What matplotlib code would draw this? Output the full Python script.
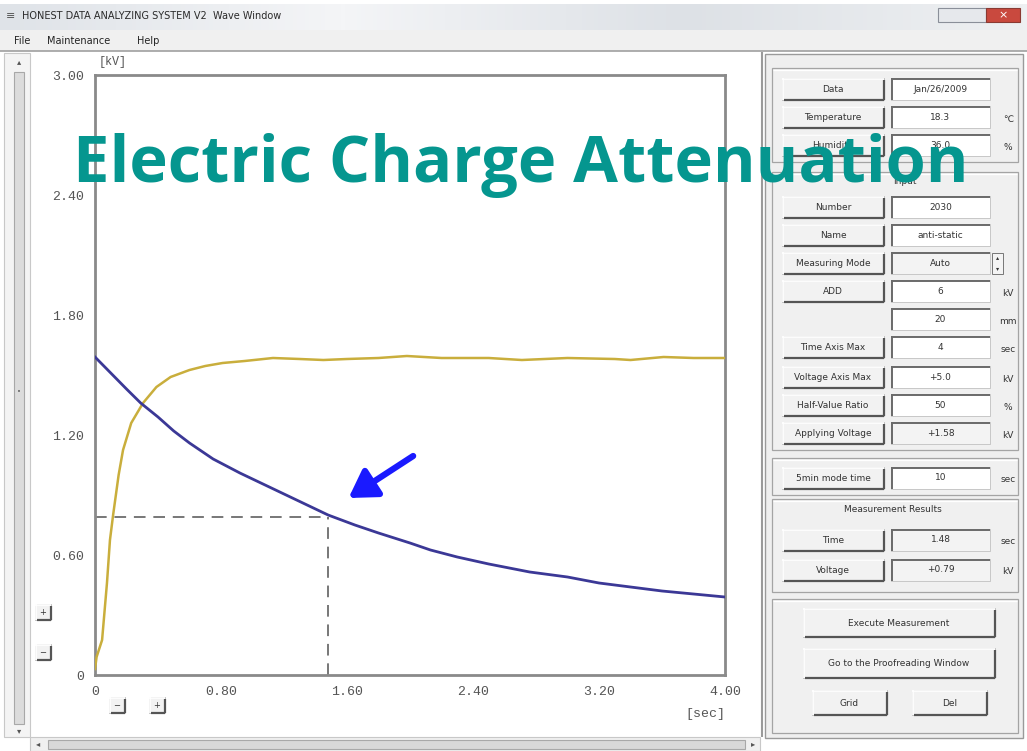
import matplotlib.pyplot as plt
import matplotlib.patches as mpatches
import numpy as np

# --- data ---
t_decay = [0.00, 0.10, 0.20, 0.29, 0.40, 0.50, 0.60, 0.75, 0.92, 1.08, 1.24, 1.36, 1.48,
           1.65, 1.80, 2.00, 2.13, 2.30, 2.50, 2.76, 3.00, 3.20, 3.40, 3.60, 3.80, 4.00]
v_decay = [1.59, 1.51, 1.43, 1.36, 1.29, 1.22, 1.16, 1.08, 1.01, 0.95, 0.89, 0.845, 0.80,
           0.75, 0.71, 0.66, 0.625, 0.59, 0.555, 0.515, 0.49, 0.46, 0.44, 0.42, 0.405, 0.39]

t_apply = [0.00, 0.01, 0.045, 0.076, 0.095, 0.115, 0.15, 0.178, 0.23, 0.305, 0.39, 0.48,
           0.60, 0.70, 0.81, 0.95, 1.13, 1.30, 1.45, 1.60, 1.80, 1.98, 2.20, 2.50, 2.71,
           3.00, 3.30, 3.40, 3.61, 3.80, 4.00]
v_apply = [0.03, 0.09, 0.175, 0.46, 0.675, 0.80, 1.00, 1.125, 1.26, 1.36, 1.44, 1.49,
           1.525, 1.545, 1.56, 1.57, 1.585, 1.58, 1.575, 1.58, 1.585, 1.595, 1.585, 1.585, 1.575,
           1.585, 1.58, 1.575, 1.59, 1.585, 1.585]

half_time = 1.48
half_volt = 0.79

x_ticks = [0, 0.8, 1.6, 2.4, 3.2, 4.0]
x_ticklabels = ['0', '0.80', '1.60', '2.40', '3.20', '4.00']
y_ticks = [0, 0.6, 1.2, 1.8, 2.4, 3.0]
y_ticklabels = ['0', '0.60', '1.20', '1.80', '2.40', '3.00']

title = 'Electric Charge Attenuation'
window_title = 'HONEST DATA ANALYZING SYSTEM V2  Wave Window'
menu_items = ['File', 'Maintenance', 'Help']

row_labels = ['Data', 'Temperature', 'Humidity', 'Number', 'Name', 'Measuring Mode', 'ADD', '',
              'Time Axis Max', 'Voltage Axis Max', 'Half-Value Ratio', 'Applying Voltage',
              '5min mode time', 'Time', 'Voltage']
row_values = ['Jan/26/2009', '18.3', '36.0', '2030', 'anti-static', 'Auto', '6', '20',
              '4', '+5.0', '50', '+1.58', '10', '1.48', '+0.79']
row_units = ['', '\u2103', '%', '', '', '', 'kV', 'mm', 'sec', 'kV', '%', 'kV', 'sec', 'sec', 'kV']
row_y = [89, 117, 145, 207, 235, 263, 291, 319, 347, 377, 405, 433, 478, 540, 570]
grey_fields = ['Measuring Mode', 'Applying Voltage', 'Time', 'Voltage']

W, H = 1027, 751
fig = plt.figure(figsize=(W / 100, H / 100), dpi=100)

bg = fig.add_axes([0, 0, 1, 1])
bg.set_xlim(0, W)
bg.set_ylim(H, 0)
bg.axis('off')
bg.set_zorder(0)


def rect(x0, y0, x1, y1, fc='none', ec='none', lw=1.0, z=1):
    bg.add_patch(mpatches.Rectangle((x0, y0), x1 - x0, y1 - y0, facecolor=fc,
                                    edgecolor=ec, linewidth=lw, zorder=z))


def line(xs, ys, c, lw=1.0, z=2):
    bg.plot(xs, ys, color=c, lw=lw, zorder=z, solid_capstyle='butt')


def button(x0, y0, x1, y1, label, fs=6.5):
    rect(x0, y0, x1, y1, fc='#f2f2f2', ec='#b8b8b8', lw=0.6)
    line([x0, x1], [y0 + 0.5, y0 + 0.5], '#ffffff', 1.2)
    line([x0 + 0.5, x0 + 0.5], [y0, y1], '#ffffff', 1.2)
    line([x0 + 2, x1], [y1, y1], '#555555', 1.6)
    line([x1, x1], [y0 + 2, y1], '#555555', 1.6)
    if label:
        bg.text((x0 + x1) / 2, (y0 + y1) / 2 + 0.5, label, ha='center', va='center',
                fontsize=fs, color='#333333', family='DejaVu Sans', zorder=3)


def field(x0, y0, x1, y1, value, fc='#ffffff'):
    rect(x0, y0, x1, y1, fc=fc, ec='#c0c0c0', lw=0.6)
    line([x0, x1], [y0 + 0.5, y0 + 0.5], '#6a6a6a', 1.4)
    line([x0 + 0.5, x0 + 0.5], [y0, y1], '#6a6a6a', 1.4)
    bg.text((x0 + x1) / 2, (y0 + y1) / 2, value, ha='center', va='center',
            fontsize=6.5, color='#333333', zorder=3)


# window chrome
rect(0, 0, W, H, fc='#ffffff', z=0)
grad = np.linspace(0, 1, 256).reshape(1, -1)
bg.imshow(grad, extent=[0, W, 30, 4], cmap=plt.matplotlib.colors.LinearSegmentedColormap.from_list(
    'tb', ['#dfe3e8', '#f4f5f7', '#dde1e6', '#eef0f2']), aspect='auto', zorder=1)
bg.text(22, 16, window_title, fontsize=7, color='#2a2a2a', va='center', zorder=3)
bg.text(6, 16, '\u2261', fontsize=8, color='#555555', va='center', zorder=3)
rect(938, 8, 986, 22, fc='#e6e8ec', ec='#8a8f99', lw=0.8, z=2)
rect(986, 8, 1020, 22, fc='#c9493e', ec='#8a3a33', lw=0.8, z=2)
bg.text(1003, 15, '\u00d7', fontsize=8, color='white', ha='center', va='center', zorder=3)
rect(0, 30, W, 51, fc='#f0f0f0', z=1)
line([0, W], [51, 51], '#a0a0a0', 1.2)
for name, x in zip(menu_items, [14, 47, 137]):
    bg.text(x, 41, name, fontsize=7, color='#222222', va='center', zorder=3)

# left / bottom scrollbars
rect(4, 53, 30, 737, fc='#f4f4f4', ec='#c8c8c8', lw=0.8)
rect(14, 72, 24, 724, fc='#dcdcdc', ec='#a8a8a8', lw=0.8)
bg.text(19, 62, '\u25b4', fontsize=6, color='#555555', ha='center', va='center', zorder=3)
bg.text(19, 731, '\u25be', fontsize=6, color='#555555', ha='center', va='center', zorder=3)
bg.text(19, 392, '\u2022', fontsize=5, color='#666666', ha='center', va='center', zorder=3)
rect(30, 737, 760, 751, fc='#f0f0f0', ec='#c8c8c8', lw=0.8)
rect(48, 740, 745, 749, fc='#d8d8d8', ec='#a8a8a8', lw=0.8)
bg.text(38, 744, '\u25c2', fontsize=6, color='#555555', ha='center', va='center', zorder=3)
bg.text(753, 744, '\u25b8', fontsize=6, color='#555555', ha='center', va='center', zorder=3)

# zoom buttons near the plot
for (cx, cy, s) in [(43, 612, '+'), (43, 652, '\u2212'), (117, 705, '\u2212'), (157, 705, '+')]:
    button(cx - 8, cy - 8, cx + 8, cy + 8, s, fs=6)

# right panel
line([762, 762], [52, 737], '#9a9a9a', 1.5)
rect(765, 54, 1023, 738, fc='#efefef', ec='#9a9a9a', lw=1.0)
for (y0, y1) in [(68, 162), (172, 450), (458, 495), (499, 592), (599, 733)]:
    rect(772, y0, 1018, y1, fc='#f0f0f0', ec='#a4a4a4', lw=0.9)
    line([773, 1017], [y0 + 1.5, y0 + 1.5], '#ffffff', 1.0)
bg.text(905, 182, 'Input', fontsize=6.5, color='#333333', ha='center', va='center', zorder=3)
bg.text(893, 509, 'Measurement Results', fontsize=6.5, color='#333333', ha='center',
        va='center', zorder=3)

for lab, val, unit, y in zip(row_labels, row_values, row_units, row_y):
    if lab:
        button(782, y - 11, 884, y + 11, lab)
    fc = '#f3f3f3' if lab in grey_fields else '#ffffff'
    field(891, y - 11, 990, y + 11, val, fc=fc)
    if unit:
        bg.text(1008, y + 2, unit, fontsize=6.5, color='#333333', ha='center', va='center',
                zorder=3)
# spinner next to Measuring Mode
rect(992, 253, 1003, 274, fc='#f4f4f4', ec='#777777', lw=0.7)
bg.text(997.5, 258, '\u25b4', fontsize=4.5, ha='center', va='center', color='#333333', zorder=3)
bg.text(997.5, 269, '\u25be', fontsize=4.5, ha='center', va='center', color='#333333', zorder=3)

button(803, 608, 995, 637, 'Execute Measurement')
button(803, 648, 995, 678, 'Go to the Proofreading Window')
button(812, 690, 887, 715, 'Grid')
button(912, 690, 987, 715, 'Del')

# --- the wave plot ---
px0, px1, py0, py1 = 95, 725, 75, 675
ax = fig.add_axes([px0 / W, 1 - py1 / H, (px1 - px0) / W, (py1 - py0) / H])
ax.set_zorder(2)
ax.set_facecolor('white')
ax.plot(t_apply, v_apply, color='#c9ae3c', lw=1.8, zorder=3)
ax.plot(t_decay, v_decay, color='#3b3896', lw=2.0, zorder=4)
ax.plot([0, half_time], [half_volt, half_volt], color='#777777', lw=1.4, ls=(0, (6, 4)), zorder=2)
ax.plot([half_time, half_time], [0, half_volt], color='#777777', lw=1.4, ls=(0, (6, 4)), zorder=2)
ax.annotate('', xy=(1.61, 0.885), xytext=(2.02, 1.095),
            arrowprops=dict(arrowstyle='-|>,head_length=0.9,head_width=0.55', lw=4.5,
                            color='#1a1aff', shrinkA=0, shrinkB=0, mutation_scale=18),
            zorder=5)
ax.set_xlim(0, 4.0)
ax.set_ylim(0, 3.0)
for s in ax.spines.values():
    s.set_color('#8a8a8a')
    s.set_linewidth(2.0)
ax.set_xticks(x_ticks)
ax.set_xticklabels(x_ticklabels)
ax.set_yticks(y_ticks)
ax.set_yticklabels(y_ticklabels)
ax.tick_params(length=0, labelsize=9.5, labelcolor='#555555', pad=8)
for lbl in ax.get_xticklabels() + ax.get_yticklabels():
    lbl.set_family('Liberation Mono')
ax.text(0.005, 1.012, '[kV]', transform=ax.transAxes, fontsize=8.5, color='#555555',
        family='Liberation Mono', va='bottom', ha='left')
ax.text(1.0, -0.055, '[sec]', transform=ax.transAxes, fontsize=9.5, color='#555555',
        family='Liberation Mono', va='top', ha='right')

# overlay title, fitted to the width it takes in the screenshot
tt = fig.text(73 / W, 1 - 182 / H, title, fontsize=40, fontweight='bold', color='#05968f',
              family='Open Sans', ha='left', va='baseline', zorder=10)
fig.canvas.draw()
w = tt.get_window_extent(fig.canvas.get_renderer()).width
tt.set_fontsize(40 * 895 / w)

fig.savefig('out.png', dpi=100)
